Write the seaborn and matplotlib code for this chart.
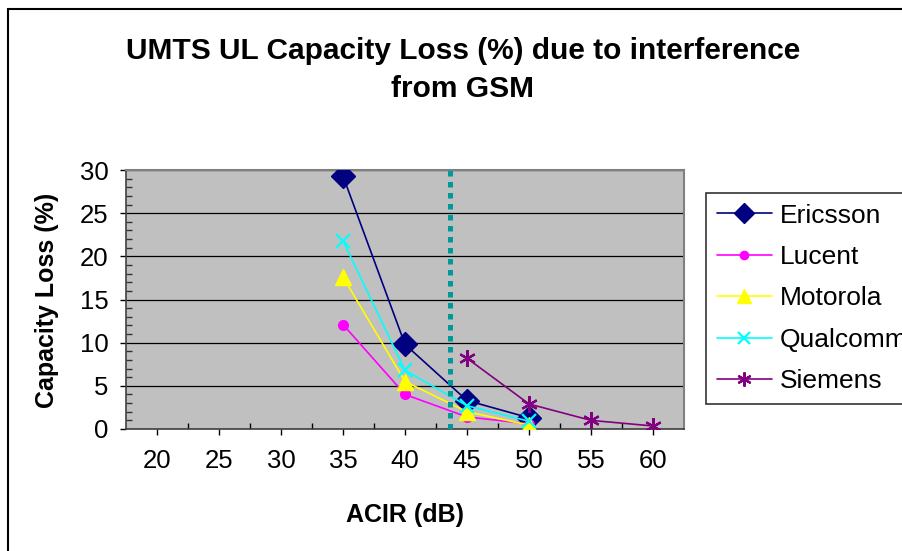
import matplotlib
matplotlib.use("Agg")
import matplotlib.pyplot as plt
import seaborn as sns
import pandas as pd
from matplotlib.lines import Line2D
from matplotlib.patches import Rectangle
from matplotlib.ticker import FixedLocator, MultipleLocator

# ---- data ----
acir_ticks = [20, 25, 30, 35, 40, 45, 50, 55, 60]
vendors = ["Ericsson", "Lucent", "Motorola", "Qualcomm", "Siemens"]
ericsson_x = [35, 40, 45, 50]
ericsson = [29.3, 9.8, 3.3, 1.3]
lucent_x = [35, 40, 45, 50]
lucent = [12.1, 4.0, 1.4, 0.6]
motorola_x = [35, 40, 45, 50]
motorola = [17.6, 5.5, 2.0, 0.45]
qualcomm_x = [35, 40, 45, 50]
qualcomm = [21.8, 6.8, 2.7, 0.9]
siemens_x = [45, 50, 55, 60]
siemens = [8.2, 2.9, 1.0, 0.35]
threshold_db = 43.6

frames = []
for name, xs, ys in [("Ericsson", ericsson_x, ericsson), ("Lucent", lucent_x, lucent),
                     ("Motorola", motorola_x, motorola), ("Qualcomm", qualcomm_x, qualcomm),
                     ("Siemens", siemens_x, siemens)]:
    frames.append(pd.DataFrame({"ACIR": xs, "Loss": ys, "Vendor": name}))
df = pd.concat(frames, ignore_index=True)

styles = {
    "Ericsson": dict(color="#000080", marker="D", ms=12, mew=1),
    "Lucent": dict(color="#FF00FF", marker="o", ms=7, mew=1),
    "Motorola": dict(color="#FFFF00", marker="^", ms=12, mew=1),
    "Qualcomm": dict(color="#00FFFF", marker="x", ms=10, mew=1.6),
    "Siemens": dict(color="#800080", marker=(6, 2, 0), ms=12, mew=1.6),
}

sns.set_style("white")
plt.rcParams["font.family"] = ["Liberation Sans", "DejaVu Sans"]
plt.rcParams["text.color"] = "black"
plt.rcParams["xtick.color"] = "black"
plt.rcParams["ytick.color"] = "black"
plt.rcParams["xtick.labelcolor"] = "black"
plt.rcParams["ytick.labelcolor"] = "black"

W, H = 903, 551
fig = plt.figure(figsize=(W / 100, H / 100), dpi=100)
ax = fig.add_axes([126 / W, 1 - 429 / H, (684 - 126) / W, (429 - 170) / H])
ax.set_facecolor("#C0C0C0")

handles = []
for v in vendors:
    s = styles[v]
    sub = df[df["Vendor"] == v]
    sns.lineplot(data=sub, x="ACIR", y="Loss", ax=ax, color=s["color"], linewidth=1.2,
                 marker=s["marker"], markersize=s["ms"], markeredgewidth=s["mew"],
                 markeredgecolor=s["color"], markerfacecolor=s["color"], legend=False,
                 zorder=3)
    handles.append(Line2D([], [], color=s["color"], linewidth=1.2, marker=s["marker"],
                          markersize=s["ms"] * 0.85, markeredgewidth=s["mew"],
                          markeredgecolor=s["color"], markerfacecolor=s["color"]))

ax.axvline(threshold_db, color="#009999", linewidth=3.6, linestyle=(0, (1.1, 1.1)), zorder=4)

ax.set_xlim(17.5, 62.5)
ax.set_ylim(0, 30)
ax.xaxis.set_major_locator(FixedLocator(acir_ticks))
ax.xaxis.set_minor_locator(FixedLocator([t + 2.5 for t in acir_ticks[:-1]]))
ax.yaxis.set_major_locator(MultipleLocator(5))
ax.yaxis.set_minor_locator(MultipleLocator(1))
ax.tick_params(axis="x", which="major", direction="out", length=4.5, width=1, color="black",
               labelsize=18.5, pad=10, labelcolor="black")
ax.tick_params(axis="x", which="minor", direction="in", length=4.5, width=1, color="black")
ax.tick_params(axis="y", which="major", direction="out", length=4.5, width=1, color="black",
               labelsize=18.5, pad=8, labelcolor="black")
ax.tick_params(axis="y", which="minor", direction="in", length=4.5, width=1, color="#333333")
ax.tick_params(axis="both", which="both", bottom=True, left=True)
ax.yaxis.grid(True, which="major", color="black", linewidth=0.9)
ax.set_axisbelow(True)
for side in ["top", "right"]:
    ax.spines[side].set_color("#808080")
    ax.spines[side].set_linewidth(1.5)
for side in ["left", "bottom"]:
    ax.spines[side].set_color("#404040")
    ax.spines[side].set_linewidth(1.2)

ax.set_xlabel("")
ax.set_ylabel("")
fig.text(405 / W, 1 - 515 / H, "ACIR (dB)", ha="center", va="center",
         fontsize=18, fontweight="bold", color="black")
fig.text(47 / W, 1 - 300 / H, "Capacity Loss (%)", ha="center", va="center",
         rotation=90, fontsize=18, fontweight="bold", color="black")

fig.text(463 / W, 1 - 70 / H, "UMTS UL Capacity Loss (%) due to interference\nfrom GSM",
         ha="center", va="center", fontsize=21.5, fontweight="bold", linespacing=1.45,
         color="black")

leg = fig.legend(handles, vendors, loc="upper left", bbox_to_anchor=(706 / W, 1 - 193 / H),
                 frameon=True, fancybox=False, edgecolor="black", fontsize=19,
                 handlelength=2.1, handletextpad=0.3, labelspacing=0.66, borderpad=0.4,
                 borderaxespad=0, labelcolor="black")
leg.get_frame().set_linewidth(1.2)

fig.add_artist(Rectangle((8 / W, -0.1), 1.2, 1.1 - 9 / H, transform=fig.transFigure,
                         fill=False, edgecolor="black", linewidth=1.5))

fig.savefig("out.png", dpi=100)
